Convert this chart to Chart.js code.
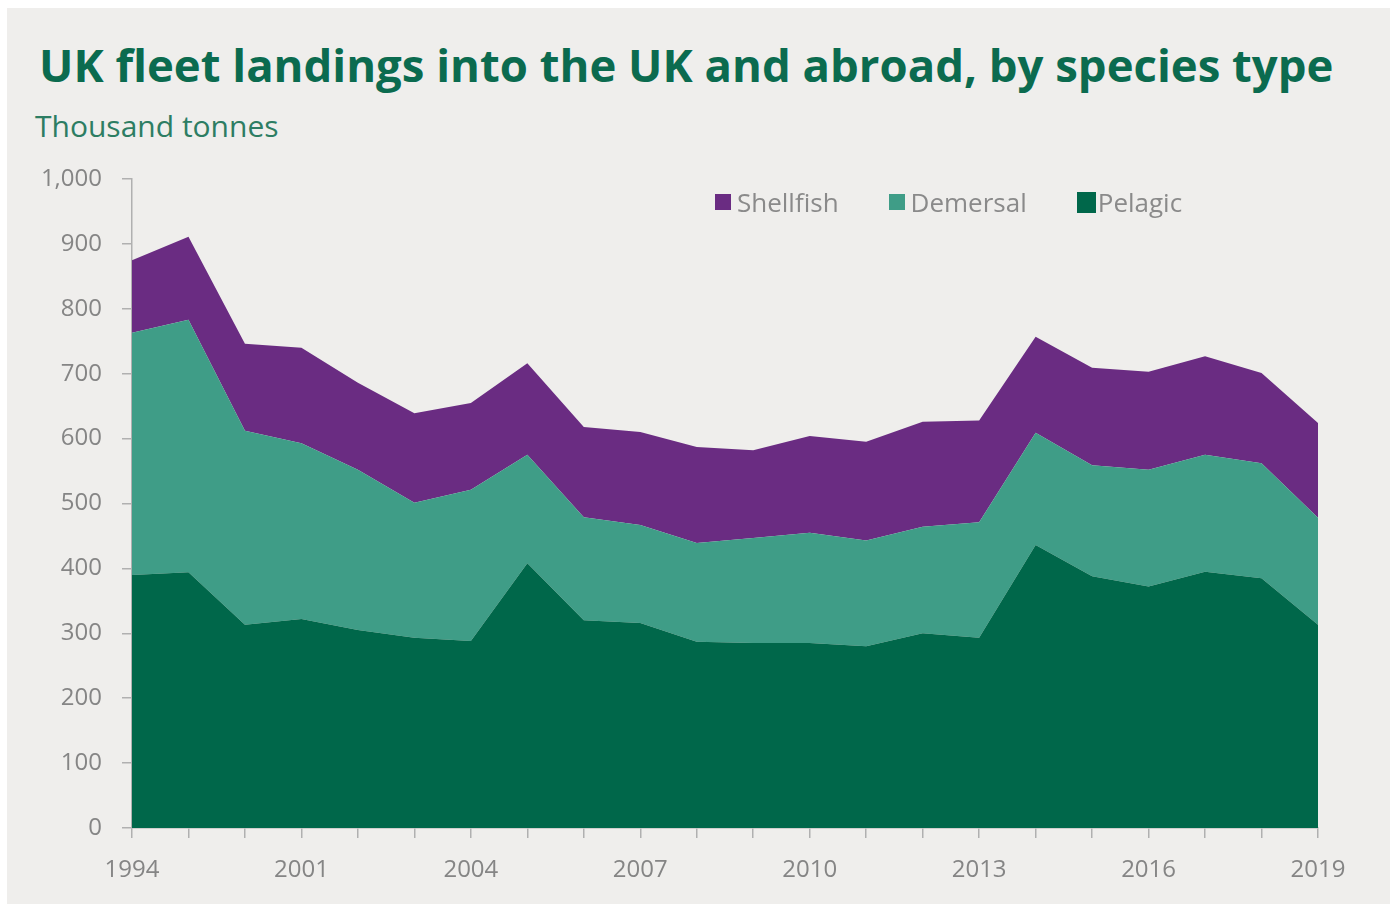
<!DOCTYPE html>
<html>
<head>
<meta charset="utf-8">
<script src="https://cdn.jsdelivr.net/npm/chart.js@4.4.0/dist/chart.umd.min.js"></script>
<style>
  html, body { margin: 0; padding: 0; background: #ffffff; }
  #panel {
    position: absolute; left: 7px; top: 8px; width: 1383px; height: 896px;
    background: #efeeec;
  }
  #title {
    position: absolute; left: 39px; top: 33px;
    font-family: "Open Sans", sans-serif; font-weight: 700; font-size: 45.5px;
    color: #0b6b4f; white-space: nowrap;
  }
  #subtitle {
    position: absolute; left: 35px; top: 105px;
    font-family: "Open Sans", sans-serif; font-size: 30px;
    color: #2d7d63; white-space: nowrap;
  }
  #legend {
    position: absolute; left: 715px; top: 184px;
    font-family: "Open Sans", sans-serif; font-size: 26px; color: #8a8a8a;
    display: flex; align-items: center; white-space: nowrap;
  }
  .item { display: flex; align-items: center; margin-right: 50px; }
  .box { width: 16px; height: 16px; margin-right: 6px; }
  #wrap { position: absolute; left: 0; top: 0; width: 1392px; height: 907px; }
</style>
</head>
<body>
<div id="panel"></div>
<div id="title">UK fleet landings into the UK and abroad, by species type</div>
<div id="subtitle">Thousand tonnes</div>
<div id="wrap"><canvas id="chart"></canvas></div>
<div id="legend"></div>
<script>
// ---- data (thousand tonnes) ----
const years = ['1994', '1997', '2000', '2001', '2002', '2003', '2004', '2005', '2006', '2007', '2008',
               '2009', '2010', '2011', '2012', '2013', '2014', '2015', '2016', '2017', '2018', '2019'];
const shownYears = ['1994', '2001', '2004', '2007', '2010', '2013', '2016', '2019'];

const pelagic   = [390, 394, 313, 322, 305, 293, 288, 408, 320, 316, 287, 285, 285, 280, 300, 293, 436, 388, 372, 395, 385, 313];
const demersal  = [373, 389, 299, 271, 247, 208, 233, 167, 159, 151, 152, 162, 170, 163, 164, 178, 173, 171, 180, 180, 177, 165];
const shellfish = [112, 128, 134, 147, 134, 138, 134, 141, 139, 143, 148, 135, 149, 152, 162, 157, 148, 150, 151, 152, 139, 146];

const yTicks = [0, 100, 200, 300, 400, 500, 600, 700, 800, 900, 1000];

const COLORS = {
    pelagic: '#00674a',
    demersal: '#3f9d87',
    shellfish: '#6a2c82'
};

const axisGrey = '#b0b0b0';
const labelGrey = '#858585';

const ctx = document.getElementById('chart').getContext('2d');
const chart = new Chart(ctx, {
    type: 'line',
    data: {
        labels: years,
        datasets: [
            { label: 'Pelagic', data: pelagic, backgroundColor: COLORS.pelagic, borderColor: COLORS.pelagic,
              fill: 'origin', borderWidth: 0, pointRadius: 0, tension: 0 },
            { label: 'Demersal', data: demersal, backgroundColor: COLORS.demersal, borderColor: COLORS.demersal,
              fill: '-1', borderWidth: 0, pointRadius: 0, tension: 0 },
            { label: 'Shellfish', data: shellfish, backgroundColor: COLORS.shellfish, borderColor: COLORS.shellfish,
              fill: '-1', borderWidth: 0, pointRadius: 0, tension: 0 }
        ]
    },
    options: {
        responsive: true, maintainAspectRatio: false, animation: false,
        layout: { padding: { top: 179, right: 74, left: 0, bottom: 0 } },
        plugins: { legend: { display: false }, tooltip: { enabled: false } },
        scales: {
            x: {
                offset: false,
                grid: { drawOnChartArea: false, drawTicks: true, tickLength: 10, color: axisGrey, lineWidth: 1.5 },
                border: { display: true, color: axisGrey, width: 1.5 },
                ticks: {
                    autoSkip: false, maxRotation: 0, padding: 18,
                    color: labelGrey, font: { family: 'Open Sans', size: 24 },
                    callback: function (val) {
                        const y = this.getLabelForValue(val);
                        return shownYears.includes(y) ? y : '';
                    }
                },
                afterFit: s => { s.height = 79; }
            },
            y: {
                stacked: true, min: 0, max: 1000,
                afterBuildTicks: s => { s.ticks = yTicks.map(v => ({ value: v })); },
                grid: { drawOnChartArea: false, drawTicks: true, tickLength: 10, color: axisGrey, lineWidth: 1.5 },
                border: { display: true, color: axisGrey, width: 1.5 },
                ticks: {
                    padding: 20, color: labelGrey, font: { family: 'Open Sans', size: 24 },
                    callback: v => v.toLocaleString('en-GB')
                },
                afterFit: s => { s.width = 132; }
            }
        }
    }
});

// legend built from the datasets, shellfish first
const legend = document.getElementById('legend');
chart.data.datasets.slice().reverse().forEach(ds => {
    const item = document.createElement('div');
    item.className = 'item';
    const box = document.createElement('div');
    box.className = 'box';
    box.style.background = ds.backgroundColor;
    if (ds.label === 'Pelagic') { box.style.width = '19px'; box.style.height = '21px'; box.style.marginRight = '2px'; }
    const txt = document.createElement('span');
    txt.textContent = ds.label;
    item.appendChild(box);
    item.appendChild(txt);
    legend.appendChild(item);
});
</script>
</body>
</html>
